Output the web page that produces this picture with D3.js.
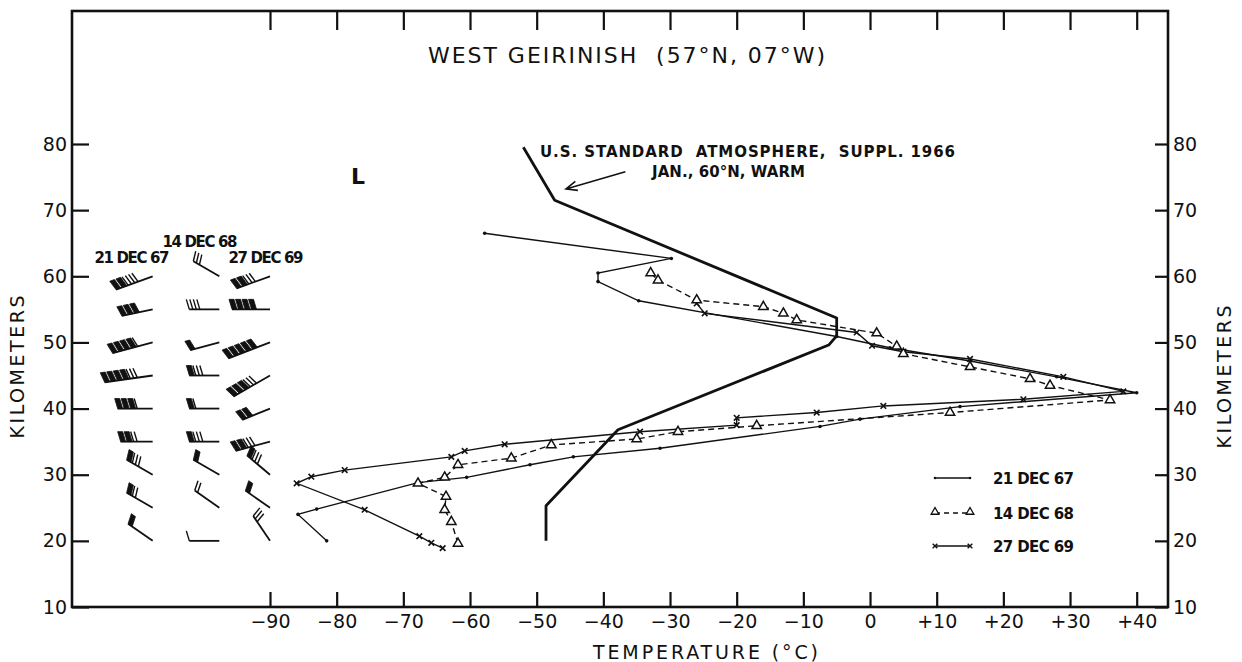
<!DOCTYPE html>
<meta charset="utf-8">
<script src="https://d3js.org/d3.v7.min.js"></script>
<style>
  body { margin: 0; background: #fff; }
  text { font-family: "DejaVu Sans", sans-serif; fill: #111; }
</style>
<div id="chart"></div>
<script>
// ---- data ----
const tempTicks = [-90, -80, -70, -60, -50, -40, -30, -20, -10, 0, 10, 20, 30, 40];
const kmTicks = [10, 20, 30, 40, 50, 60, 70, 80];

// U.S. Standard Atmosphere suppl. 1966, Jan 60N warm  [temp, km]
const std1966 = [[-52, 79.5], [-47.3, 71.5], [-5, 53.7], [-5, 51], [-6.2, 49.6],
  [-37.8, 36.8], [-48.6, 25.3], [-48.6, 20]];

const dec67 = [[-81.5, 20], [-85.8, 24], [-83, 24.8], [-67.8, 28.8], [-60.5, 29.6],
  [-51, 31.5], [-44.5, 32.7], [-31.5, 34.0], [-7.5, 37.3], [-1.5, 38.4], [13.5, 40.3],
  [40, 42.4], [28, 44.8], [15, 47.2], [3, 49.2], [-5, 50.9], [-34.7, 56.3],
  [-40.8, 59.2], [-40.8, 60.5], [-29.8, 62.7], [-57.8, 66.5]];

const dec68 = [[-61.8, 19.6], [-62.8, 22.9], [-63.8, 24.7], [-63.6, 26.7], [-67.8, 28.7],
  [-63.8, 29.6], [-61.8, 31.5], [-53.8, 32.5], [-47.8, 34.5], [-35, 35.4], [-28.8, 36.5],
  [-17, 37.4], [12, 39.4], [36, 41.3], [27, 43.5], [24, 44.5], [15, 46.3], [5, 48.3],
  [4, 49.4], [1, 51.4], [-11, 53.4], [-13, 54.4], [-16, 55.4], [-26, 56.4],
  [-31.8, 59.4], [-32.9, 60.5]];

const dec69 = [[-64.1, 18.9], [-65.8, 19.7], [-67.6, 20.7], [-75.8, 24.7], [-86, 28.7],
  [-83.8, 29.7], [-78.8, 30.7], [-62.8, 32.7], [-60.8, 33.6], [-54.8, 34.6], [-34.5, 36.5],
  [-20, 37.5], [-20, 38.6], [-8, 39.4], [2, 40.4], [23, 41.4], [38, 42.6], [29, 44.8],
  [15, 47.5], [5, 48.6], [0.3, 49.5], [-2, 51.5], [-24.8, 54.4], [-26, 55.9]];

// wind barbs: levels (km), direction (deg from), speed (knots)
const windLevels = [20, 25, 30, 35, 40, 45, 50, 55, 60];
const wind67Dir = [305, 300, 300, 270, 270, 262, 255, 258, 250];
const wind67Spd = [50, 75, 80, 120, 160, 230, 210, 150, 140];
const wind68Dir = [270, 305, 300, 270, 270, 270, 255, 270, 300];
const wind68Spd = [10, 20, 50, 80, 60, 80, 50, 40, 30];
const wind69Dir = [326, 305, 310, 255, 248, 240, 249, 270, 250];
const wind69Spd = [30, 50, 80, 130, 100, 180, 250, 200, 130];

// ---- layout ----
const W = 1242, H = 662;
const plotL = 72, plotR = 1168, plotT = 11, plotB = 607;

const svg = d3.select("#chart").append("svg")
  .attr("width", W).attr("height", H);

const x = d3.scaleLinear().domain([-90, 40]).range([270, 1136.7]);
const y = d3.scaleLinear().domain([10, 80]).range([607, 144]);

const fmtT = d => d > 0 ? "+" + d : d < 0 ? "\u2212" + Math.abs(d) : "0";

// frame
svg.append("rect")
  .attr("x", plotL).attr("y", plotT)
  .attr("width", plotR - plotL).attr("height", plotB - plotT)
  .attr("fill", "none").attr("stroke", "#111").attr("stroke-width", 2.6);

// axes
const styleAxis = g => {
  g.select(".domain").remove();
  g.selectAll(".tick line").attr("stroke", "#111").attr("stroke-width", 2.2);
  g.selectAll(".tick text").attr("fill", "#111").style("font-size", "19px")
    .style("font-family", "DejaVu Sans, sans-serif");
};

svg.append("g").attr("transform", `translate(0,${plotB})`)
  .call(d3.axisBottom(x).tickValues(tempTicks).tickSize(-15).tickPadding(8).tickFormat(fmtT))
  .call(styleAxis);

svg.append("g").attr("transform", `translate(0,${plotT})`)
  .call(d3.axisTop(x).tickValues(tempTicks).tickSize(-19).tickFormat(""))
  .call(styleAxis);

svg.append("g").attr("transform", `translate(${plotL},0)`)
  .call(d3.axisLeft(y).tickValues(kmTicks).tickSize(-17).tickPadding(5))
  .call(styleAxis);

svg.append("g").attr("transform", `translate(${plotR},0)`)
  .call(d3.axisRight(y).tickValues(kmTicks).tickSize(-13).tickPadding(5))
  .call(styleAxis);

// axis titles
svg.append("text")
  .attr("transform", "translate(24,367) rotate(-90)")
  .attr("text-anchor", "middle").style("font-size", "19px")
  .attr("textLength", 143).attr("lengthAdjust", "spacing")
  .text("KILOMETERS");

svg.append("text")
  .attr("transform", "translate(1231,377) rotate(-90)")
  .attr("text-anchor", "middle").style("font-size", "19px")
  .attr("textLength", 143).attr("lengthAdjust", "spacing")
  .text("KILOMETERS");

svg.append("text")
  .attr("x", 593).attr("y", 659).style("font-size", "19px")
  .attr("textLength", 225).attr("lengthAdjust", "spacing")
  .text("TEMPERATURE (°C)");

// title
svg.append("text")
  .attr("x", 428).attr("y", 63).style("font-size", "22px")
  .attr("textLength", 397).attr("lengthAdjust", "spacing")
  .attr("xml:space", "preserve")
  .text("WEST GEIRINISH  (57°N, 07°W)");

// "L" mark
svg.append("text").attr("x", 351).attr("y", 184)
  .style("font-size", "22px").style("font-weight", "bold").text("L");

// standard atmosphere annotation
svg.append("text").attr("x", 540).attr("y", 157)
  .style("font-size", "15px").style("font-weight", "bold")
  .attr("textLength", 415).attr("lengthAdjust", "spacing")
  .attr("xml:space", "preserve")
  .text("U.S. STANDARD  ATMOSPHERE,  SUPPL. 1966");
svg.append("text").attr("x", 652).attr("y", 177)
  .style("font-size", "15px").style("font-weight", "bold")
  .attr("textLength", 153).attr("lengthAdjust", "spacing")
  .text("JAN., 60°N, WARM");

// arrow
const ax0 = x(-36.7), ay0 = y(75.8), ax1 = x(-45.6), ay1 = y(73.2);
const ang = Math.atan2(ay1 - ay0, ax1 - ax0);
svg.append("path")
  .attr("d", `M${ax0},${ay0}L${ax1},${ay1}` +
    `M${ax1 - 12 * Math.cos(ang - 0.4)},${ay1 - 12 * Math.sin(ang - 0.4)}L${ax1},${ay1}` +
    `L${ax1 - 12 * Math.cos(ang + 0.4)},${ay1 - 12 * Math.sin(ang + 0.4)}`)
  .attr("fill", "none").attr("stroke", "#111").attr("stroke-width", 1.6);

// ---- profiles ----
const line = d3.line().x(d => x(d[0])).y(d => y(d[1]));

svg.append("path").datum(std1966).attr("d", line)
  .attr("fill", "none").attr("stroke", "#111").attr("stroke-width", 2.8)
  .attr("stroke-linejoin", "round");

svg.append("path").datum(dec67).attr("d", line)
  .attr("fill", "none").attr("stroke", "#111").attr("stroke-width", 1.4);

svg.append("path").datum(dec69).attr("d", line)
  .attr("fill", "none").attr("stroke", "#111").attr("stroke-width", 1.4);

svg.append("path").datum(dec68).attr("d", line)
  .attr("fill", "none").attr("stroke", "#111").attr("stroke-width", 1.4)
  .attr("stroke-dasharray", "6,4");

const tri = d3.symbol(d3.symbolTriangle).size(38);
const cross = d3.symbol(d3.symbolX).size(22);

svg.selectAll(".d67").data(dec67).join("circle").attr("class", "d67")
  .attr("cx", d => x(d[0])).attr("cy", d => y(d[1])).attr("r", 1.8).attr("fill", "#111");

svg.selectAll(".d69").data(dec69).join("path").attr("class", "d69")
  .attr("transform", d => `translate(${x(d[0])},${y(d[1])})`)
  .attr("d", cross).attr("fill", "none").attr("stroke", "#111").attr("stroke-width", 1.6);

svg.selectAll(".d68").data(dec68).join("path").attr("class", "d68")
  .attr("transform", d => `translate(${x(d[0])},${y(d[1])})`)
  .attr("d", tri).attr("fill", "#fff").attr("stroke", "#111").attr("stroke-width", 1.5);

// ---- legend ----
const legendRows = [
  { label: "21 DEC 67", dash: null, mark: "dot" },
  { label: "14 DEC 68", dash: "5,4", mark: "tri" },
  { label: "27 DEC 69", dash: null, mark: "x" }
];
const legY = [478, 513, 546];
const legend = svg.append("g");
legendRows.forEach((r, i) => {
  const ly = legY[i];
  legend.append("line").attr("x1", 935).attr("x2", 970).attr("y1", ly).attr("y2", ly)
    .attr("stroke", "#111").attr("stroke-width", 1.4)
    .attr("stroke-dasharray", r.dash);
  [935, 970].forEach(lx => {
    if (r.mark === "tri") {
      legend.append("path").attr("transform", `translate(${lx},${ly - 1})`)
        .attr("d", d3.symbol(d3.symbolTriangle).size(26)).attr("fill", "#fff")
        .attr("stroke", "#111").attr("stroke-width", 1.3);
    } else if (r.mark === "x") {
      legend.append("path").attr("transform", `translate(${lx},${ly})`)
        .attr("d", d3.symbol(d3.symbolX).size(16)).attr("fill", "none")
        .attr("stroke", "#111").attr("stroke-width", 1.4);
    } else {
      legend.append("circle").attr("cx", lx).attr("cy", ly).attr("r", 1.3).attr("fill", "#111");
    }
  });
  legend.append("text").attr("x", 993).attr("y", ly + 6)
    .style("font-size", "15px").style("font-weight", "bold")
    .attr("textLength", 81).attr("lengthAdjust", "spacing")
    .attr("xml:space", "preserve")
    .text(r.label);
});

// ---- wind barbs ----
function drawBarb(g, sx, sy, dir, speed) {
  const rad = dir * Math.PI / 180;
  const ux = Math.sin(rad), uy = -Math.cos(rad);
  const px = -uy, py = ux;
  const pennants = Math.floor(speed / 50);
  const barbs = Math.floor((speed - pennants * 50) / 10);
  const L = Math.max(30, 12 + pennants * 6.5 + barbs * 3.5);
  const ex = sx + ux * L, ey = sy + uy * L;
  g.append("line").attr("x1", sx).attr("y1", sy).attr("x2", ex).attr("y2", ey)
    .attr("stroke", "#111").attr("stroke-width", 1.8);
  let pos = 0;
  const pt = d => [ex - ux * d, ey - uy * d];
  for (let k = 0; k < pennants; k++) {
    // chunky slanted block, as drawn on the original plot
    const a = pt(pos), b = pt(pos + 5);
    const a2 = [a[0] + px * 10 + ux * 3, a[1] + py * 10 + uy * 3];
    const b2 = [b[0] + px * 10 + ux * 3, b[1] + py * 10 + uy * 3];
    g.append("path").attr("d", `M${a}L${a2}L${b2}L${b}Z`).attr("fill", "#111")
      .attr("stroke", "#111").attr("stroke-width", 0.8);
    pos += 6.5;
  }
  for (let k = 0; k < barbs; k++) {
    const a = pt(pos);
    g.append("line").attr("x1", a[0]).attr("y1", a[1])
      .attr("x2", a[0] + px * 10 + ux * 3).attr("y2", a[1] + py * 10 + uy * 3)
      .attr("stroke", "#111").attr("stroke-width", 1.4);
    pos += 3.5;
  }
}

const windCols = [
  { tx: -107.6, dirs: wind67Dir, spds: wind67Spd, label: "21 DEC 67", lx: 132, ly: 263 },
  { tx: -97.6, dirs: wind68Dir, spds: wind68Spd, label: "14 DEC 68", lx: 200, ly: 247 },
  { tx: -90, dirs: wind69Dir, spds: wind69Spd, label: "27 DEC 69", lx: 266, ly: 263 }
];
const barbs = svg.append("g");
windCols.forEach(c => {
  windLevels.forEach((lev, i) => drawBarb(barbs, x(c.tx), y(lev), c.dirs[i], c.spds[i]));
  barbs.append("text").attr("x", c.lx).attr("y", c.ly)
    .attr("text-anchor", "middle")
    .style("font-size", "15px").style("font-weight", "bold")
    .attr("textLength", 75).attr("lengthAdjust", "spacing")
    .text(c.label);
});
</script>
